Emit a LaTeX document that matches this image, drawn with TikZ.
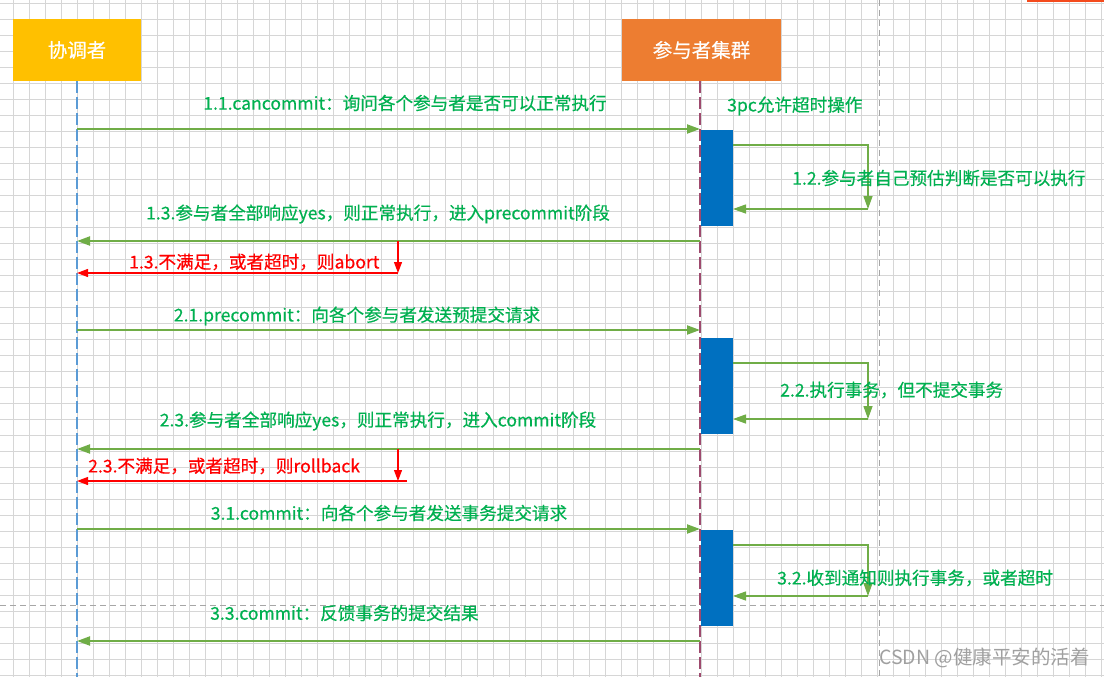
\documentclass[tikz,border=0pt]{standalone}
\usepackage{fontspec}
\setmainfont{Noto Sans CJK SC}[FakeBold=0.4]
\newfontfamily\wmfont{Noto Sans CJK SC}
\usetikzlibrary{arrows.meta}
\definecolor{gridc}{HTML}{D6D6D6}
\definecolor{pagec}{HTML}{A6A6A6}
\definecolor{yel}{HTML}{FFC000}
\definecolor{org}{HTML}{ED7D31}
\definecolor{lifeblue}{HTML}{5B9BD5}
\definecolor{lifepur}{HTML}{9E4A6E}
\definecolor{actblue}{HTML}{0070C0}
\definecolor{lineg}{HTML}{70AD47}
\definecolor{txtg}{HTML}{00B050}
\definecolor{txtr}{HTML}{FF0000}
\definecolor{wm}{HTML}{A0A0A0}
\begin{document}
\begin{tikzpicture}[x=1pt,y=-1pt,
  hdr/.style={draw=none, text=white, font=\fontsize{19.5}{22}\selectfont, minimum width=128pt, minimum height=62pt, inner sep=0pt},
  act/.style={fill=actblue, draw=none, minimum width=32pt, inner sep=0pt},
  lifeb/.style={draw=lifeblue, line width=1.6pt, dash pattern=on 12pt off 4pt},
  lifep/.style={draw=lifepur, line width=1.6pt, dash pattern=on 12pt off 4pt},
  msg/.style={draw=lineg, line width=2pt, -{Triangle[length=13pt,width=9pt]}},
  selfmsg/.style={draw=lineg, line width=1.3pt, -{Triangle[length=13pt,width=9pt]}},
  redmsg/.style={draw=txtr, line width=1.2pt, -{Triangle[length=11pt,width=8pt]}},
  lbl/.style={text=txtg, font=\fontsize{17.6}{20}\selectfont, inner sep=0pt},
  rlbl/.style={text=txtr, font=\fontsize{17.6}{20}\selectfont, inner sep=0pt},
  pagebreak/.style={draw=pagec, line width=0.8pt, dash pattern=on 6pt off 4pt}
]
\useasboundingbox (0,0) rectangle (1104,677);
\fill[white] (0,0) rectangle (1104,677);
% grid
\foreach \x in {13,29,...,1104} \draw[gridc, line width=0.7pt] (\x,0) -- (\x,677);
\foreach \y in {3,19,...,677} \draw[gridc, line width=0.7pt] (0,\y) -- (1104,\y);
% page break lines
\draw[pagebreak] (879,0) -- (879,677);
\draw[pagebreak] (0,605) -- (1104,605);
% partial orange shape at top right
\fill[org!60!red] (1027,0) rectangle (1104,2.5);
% headers
\node[hdr, fill=yel] (c) at (77,50) {协调者};
\node[hdr, fill=org, minimum width=159pt] (p) at (701.5,50) {参与者集群};
% lifelines
\coordinate (cend) at (77,677);
\coordinate (pend) at (700,677);
\draw[lifeb] (c.south -| cend) -- (cend);
\draw[lifep] (p.south -| pend) -- (pend);
% activation boxes
\node[act, minimum height=96pt, anchor=north west] (a1) at (701,130) {};
\node[act, minimum height=96pt, anchor=north west] (a2) at (701,338) {};
\node[act, minimum height=96pt, anchor=north west] (a3) at (701,530) {};
% ---- phase 1
\coordinate (c11) at (77,129); \coordinate (p11) at (700,129);
\draw[msg] (c11) -- (p11);
\node[lbl] (l11) at (405,103) {1.1.cancommit：询问各个参与者是否可以正常执行};
\node[lbl, anchor=west] (l3pc) at (727,106) {3pc允许超时操作};
\coordinate (s12a) at (733,145); \coordinate (s12b) at (868,145);
\coordinate (s12c) at (868,209); \coordinate (s12d) at (733,209);
\draw[selfmsg] (s12a) -- (s12b) -- (s12c);
\draw[selfmsg] (s12c) -- (s12d);
\node[lbl, anchor=west] (l12) at (792,178) {1.2.参与者自己预估判断是否可以执行};
\coordinate (p13) at (700,241); \coordinate (c13) at (77,241);
\draw[msg] (p13) -- (c13);
\node[lbl] (l13) at (378,214) {1.3.参与者全部响应yes，则正常执行，进入precommit阶段};
\coordinate (r13a) at (398,241); \coordinate (r13b) at (398,273); \coordinate (r13c) at (77,273);
\draw[redmsg] (r13a) -- (r13b);
\draw[redmsg] (r13b) -- (r13c);
\node[rlbl, anchor=west] (lr13) at (129,262) {1.3.不满足，或者超时，则abort};
% ---- phase 2
\coordinate (c21) at (77,330); \coordinate (p21) at (700,330);
\draw[msg] (c21) -- (p21);
\node[lbl] (l21) at (357,316) {2.1.precommit：向各个参与者发送预提交请求};
\coordinate (s22a) at (733,363); \coordinate (s22b) at (868,363);
\coordinate (s22c) at (868,419); \coordinate (s22d) at (733,419);
\draw[selfmsg] (s22a) -- (s22b) -- (s22c);
\draw[selfmsg] (s22c) -- (s22d);
\node[lbl, anchor=west] (l22) at (780,390) {2.2.执行事务，但不提交事务};
\coordinate (p23) at (700,449); \coordinate (c23) at (77,449);
\draw[msg] (p23) -- (c23);
\node[lbl] (l23) at (378,421) {2.3.参与者全部响应yes，则正常执行，进入commit阶段};
\coordinate (r23a) at (398,449); \coordinate (r23b) at (398,481);
\coordinate (r23e) at (407,481); \coordinate (r23c) at (77,481);
\draw[redmsg] (r23a) -- (r23b);
\draw[redmsg] (r23e) -- (r23c);
\node[rlbl, anchor=west] (lr23) at (88,466) {2.3.不满足，或者超时，则rollback};
% ---- phase 3
\coordinate (c31) at (77,529); \coordinate (p31) at (700,529);
\draw[msg] (c31) -- (p31);
\node[lbl] (l31) at (389,513) {3.1.commit：向各个参与者发送事务提交请求};
\coordinate (s32a) at (733,545); \coordinate (s32b) at (868,545);
\coordinate (s32c) at (868,596); \coordinate (s32d) at (733,596);
\draw[selfmsg] (s32a) -- (s32b) -- (s32c);
\draw[selfmsg] (s32c) -- (s32d);
\node[lbl, anchor=west] (l32) at (777,578) {3.2.收到通知则执行事务，或者超时};
\coordinate (p33) at (700,641); \coordinate (c33) at (77,641);
\draw[msg] (p33) -- (c33);
\node[lbl, anchor=west] (l33) at (210,613) {3.3.commit：反馈事务的提交结果};
% watermark
\node[text=wm, font=\wmfont\fontsize{19.5}{22}\selectfont, anchor=east, inner sep=0pt] (wmk) at (1090,658) {CSDN @健康平安的活着};
\end{tikzpicture}
\end{document}
